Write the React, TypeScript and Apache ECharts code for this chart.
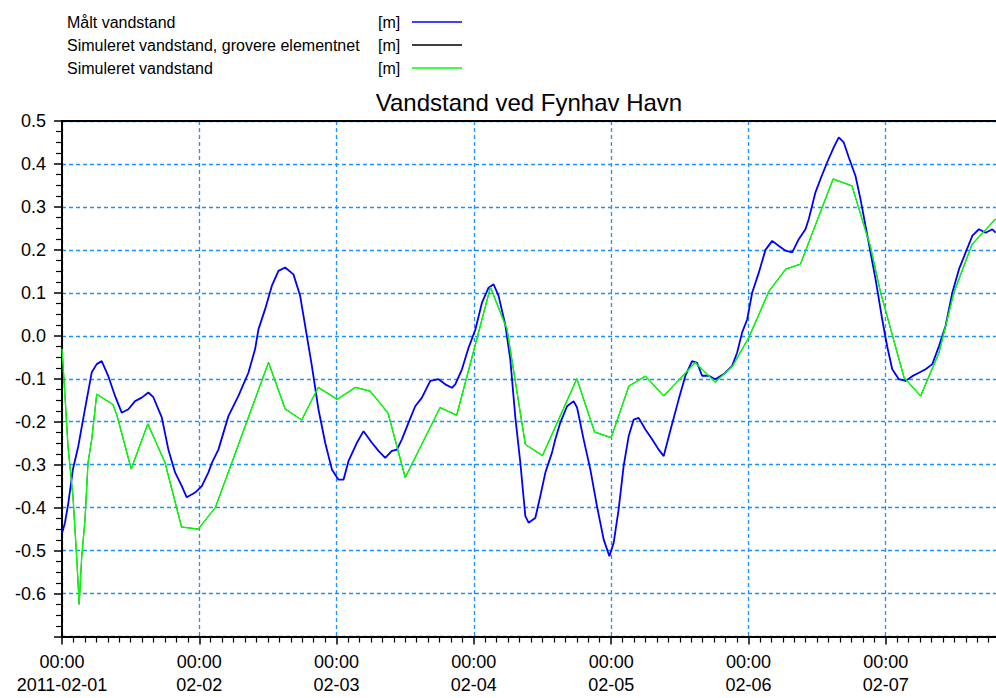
import React, { useEffect, useRef } from "react";
import * as echarts from "echarts";

const FONT = 'Arial, "Liberation Sans", sans-serif';

// x-axis tick labels (one per day, 00:00)
const dayLabels = ["2011-02-01", "02-02", "02-03", "02-04", "02-05", "02-06", "02-07"];

const seriesNames = [
  "Målt vandstand",
  "Simuleret vandstand, grovere elementnet",
  "Simuleret vandstand",
];

// Hours since 2011-02-01 00:00 and measured water level [m]
const measuredHours = [
  0.05, 0.52, 1.1, 1.92, 2.85, 4.02, 5.2, 6.07, 6.94, 8.1, 9.27, 10.44, 11.6, 12.77, 13.94, 15.1, 15.97,
  17.44, 18.6, 19.77, 20.94, 21.81, 23.27, 24.44, 25.6, 26.2, 27.34, 29.09, 30.84, 32.59, 33.76, 34.34,
  35.51, 36.68, 37.84, 39.01, 40.46, 41.63, 42.51, 43.68, 44.83, 46.01, 47.18, 48.33, 49.21, 50.08,
  51.55, 52.71, 54.18, 55.33, 56.5, 57.67, 58.55, 59.42, 60.58, 61.75, 62.92, 64.38, 65.83, 67.0,
  68.17, 68.75, 69.92, 71.07, 72.25, 73.42, 74.57, 75.45, 76.32, 77.5, 78.37, 79.25, 80.12, 81.0,
  81.57, 82.74, 83.62, 84.49, 85.66, 86.24, 87.12, 88.29, 89.44, 90.04, 91.19, 92.36, 93.53, 94.69,
  95.69, 96.44, 97.31, 98.19, 99.06, 99.94, 100.81, 101.99, 103.16, 104.31, 105.19, 106.36, 107.81,
  108.98, 110.15, 111.03, 111.9, 113.06, 114.23, 115.68, 117.15, 118.03, 118.9, 119.78, 120.65,
  121.81, 122.98, 124.15, 125.33, 126.48, 127.65, 128.8, 129.97, 130.55, 131.72, 132.6, 133.77,
  134.93, 135.8, 136.67, 137.55, 138.72, 139.59, 140.47, 141.34, 142.22, 143.39, 144.26, 145.14,
  146.3, 147.47, 148.64, 149.8, 150.97, 152.15, 153.31, 154.46, 155.64, 156.81, 157.98, 159.15,
  160.3, 161.47, 162.64, 163.2,
];
const measuredValues = [
  -0.458, -0.435, -0.39, -0.31, -0.257, -0.17, -0.085, -0.066, -0.059, -0.094, -0.14, -0.179, -0.171,
  -0.152, -0.144, -0.132, -0.143, -0.19, -0.265, -0.318, -0.35, -0.376, -0.365, -0.35, -0.318, -0.296,
  -0.265, -0.187, -0.14, -0.086, -0.031, 0.015, 0.062, 0.116, 0.151, 0.159, 0.143, 0.093, 0.023, -0.07,
  -0.171, -0.249, -0.311, -0.335, -0.335, -0.292, -0.249, -0.222, -0.249, -0.268, -0.284, -0.268,
  -0.265, -0.241, -0.202, -0.164, -0.144, -0.105, -0.101, -0.113, -0.121, -0.113, -0.078, -0.028,
  0.014, 0.077, 0.112, 0.12, 0.093, 0.025, -0.055, -0.19, -0.295, -0.42, -0.435, -0.424, -0.373,
  -0.319, -0.272, -0.241, -0.202, -0.164, -0.152, -0.167, -0.241, -0.311, -0.397, -0.474, -0.513,
  -0.482, -0.404, -0.303, -0.234, -0.195, -0.191, -0.218, -0.241, -0.265, -0.28, -0.22, -0.148,
  -0.093, -0.059, -0.063, -0.093, -0.093, -0.101, -0.089, -0.07, -0.039, 0.008, 0.038, 0.1, 0.147,
  0.2, 0.221, 0.209, 0.198, 0.194, 0.225, 0.248, 0.272, 0.334, 0.365, 0.404, 0.439, 0.462, 0.45,
  0.415, 0.372, 0.318, 0.256, 0.194, 0.132, 0.038, -0.025, -0.078, -0.101, -0.105, -0.094, -0.086,
  -0.078, -0.066, -0.024, 0.023, 0.1, 0.155, 0.194, 0.233, 0.248, 0.24, 0.248, 0.24,
];

// Simulated water level [m]
const simHours = [
  0, 0.52, 1.05, 1.92, 2.62, 3.0, 3.45, 4.02, 4.55, 5.2, 6.07, 8.9, 9.6, 12.1, 15.0, 18.0, 20.9, 23.8,
  26.8, 29.7, 36.1, 39.0, 41.9, 44.8, 48.1, 51.3, 53.9, 57.0, 60.0, 66.1, 69.0, 74.9, 77.8, 81.0, 84.0,
  90.0, 93.1, 96.0, 99.1, 102.0, 105.2, 110.7, 114.2, 117.2, 120.1, 123.6, 126.5, 129.1, 134.8, 138.1,
  141.3, 143.1, 147.2, 150.1, 153.3, 155.9, 159.1, 163.2,
];
const simValues = [
  -0.03, -0.14, -0.258, -0.374, -0.528, -0.625, -0.514, -0.428, -0.295, -0.241, -0.136, -0.16, -0.185,
  -0.31, -0.205, -0.295, -0.445, -0.45, -0.4, -0.295, -0.062, -0.17, -0.196, -0.12, -0.148, -0.12,
  -0.129, -0.18, -0.33, -0.167, -0.185, 0.113, 0.015, -0.253, -0.279, -0.1, -0.224, -0.237, -0.117,
  -0.094, -0.14, -0.062, -0.108, -0.071, -0.003, 0.104, 0.155, 0.167, 0.365, 0.349, 0.209, 0.101,
  -0.097, -0.14, -0.04, 0.1, 0.213, 0.272,
];

// Simulated water level, coarser mesh [m] (nearly identical to the fine one)
const coarseHours = simHours.slice();
const coarseValues = simValues.slice();

const pairs = (xs: number[], ys: number[]) => xs.map((x, i) => [x, ys[i]]);

export default function App() {
  const ref = useRef<HTMLDivElement>(null);

  useEffect(() => {
    if (!ref.current) return;
    const chart = echarts.init(ref.current, undefined, { renderer: "svg" });
    const grid = "#1e90ff";
    const txt = { fontFamily: FONT, fontSize: 16, color: "#000" };
    const option: any = {
      animation: false,
      backgroundColor: "#fff",
      grid: {
        left: 62,
        right: 0,
        top: 121,
        bottom: 61.5,
        containLabel: false,
        outerBoundsMode: "none",
      },
      legend: {
        orient: "vertical",
        left: 62,
        top: 9,
        align: "right",
        icon: "rect",
        itemWidth: 50,
        itemHeight: 1.6,
        itemGap: 7,
        selectedMode: false,
        data: seriesNames,
        formatter: (name: string) => `{a|${name}}{b|[m]}`,
        textStyle: {
          ...txt,
          lineHeight: 16,
          rich: {
            a: { ...txt, width: 311, align: "left" },
            b: { ...txt, width: 29, align: "left" },
          },
        },
      },
      graphic: [
        {
          type: "text",
          x: 529,
          y: 102,
          style: {
            text: "Vandstand ved Fynhav Havn",
            fontFamily: FONT,
            fontSize: 24,
            fill: "#000",
            textAlign: "center",
            textVerticalAlign: "middle",
          },
        },
      ],
      xAxis: [
        {
          type: "value",
          position: "bottom",
          min: 0,
          max: 168,
          interval: 24,
          axisLine: { show: true, onZero: false, lineStyle: { color: "#000", width: 2 } },
          axisTick: { show: true, inside: false, length: 8, lineStyle: { color: "#000", width: 1.5 } },
          minorTick: { show: true, splitNumber: 12, length: 6, lineStyle: { color: "#000", width: 1.2 } },
          axisLabel: {
            margin: 14,
            fontFamily: FONT,
            fontSize: 18,
            lineHeight: 23,
            color: "#000",
            formatter: (v: number) => {
              const d = v / 24;
              const i = Math.round(d);
              if (Math.abs(d - i) > 1e-6 || i >= dayLabels.length) return "";
              return "00:00\n" + dayLabels[i];
            },
          },
          splitLine: { show: true, lineStyle: { color: grid, width: 1.3, type: [4, 3] } },
          minorSplitLine: { show: false },
        },
        {
          type: "value",
          position: "top",
          min: 0,
          max: 168,
          interval: 24,
          axisLine: { show: true, onZero: false, lineStyle: { color: "#000", width: 2 } },
          axisTick: { show: false },
          axisLabel: { show: false },
          splitLine: { show: false },
        },
      ],
      yAxis: {
        type: "value",
        min: -0.7,
        max: 0.5,
        interval: 0.1,
        axisLine: { show: true, onZero: false, lineStyle: { color: "#000", width: 2 } },
        axisTick: { show: true, inside: false, length: 8, lineStyle: { color: "#000", width: 1.5 } },
        minorTick: { show: true, splitNumber: 4, length: 6, lineStyle: { color: "#000", width: 1.2 } },
        axisLabel: {
          margin: 16,
          fontFamily: FONT,
          fontSize: 18,
          color: "#000",
          formatter: (v: number) => (v < -0.65 ? "" : v.toFixed(1)),
        },
        splitLine: { show: true, lineStyle: { color: grid, width: 1.3, type: [4, 3] } },
      },
      series: [
        {
          name: seriesNames[0],
          type: "line",
          data: pairs(measuredHours, measuredValues),
          showSymbol: false,
          color: "#0000ff",
          lineStyle: { color: "#0000ff", width: 1.8 },
          z: 3,
        },
        {
          name: seriesNames[1],
          type: "line",
          data: pairs(coarseHours, coarseValues),
          showSymbol: false,
          color: "#000000",
          lineStyle: { color: "#000000", width: 0.8 },
          z: 4,
        },
        {
          name: seriesNames[2],
          type: "line",
          data: pairs(simHours, simValues),
          showSymbol: false,
          color: "#00ff00",
          lineStyle: { color: "#00ff00", width: 1.4 },
          z: 5,
        },
      ],
    };
    chart.setOption(option);
    return () => chart.dispose();
  }, []);

  return (
    <div
      style={{
        position: "absolute",
        left: 0,
        top: 0,
        width: 996,
        height: 698,
        overflow: "hidden",
        background: "#fff",
      }}
    >
      <div ref={ref} style={{ width: 1023, height: 698 }} />
    </div>
  );
}
